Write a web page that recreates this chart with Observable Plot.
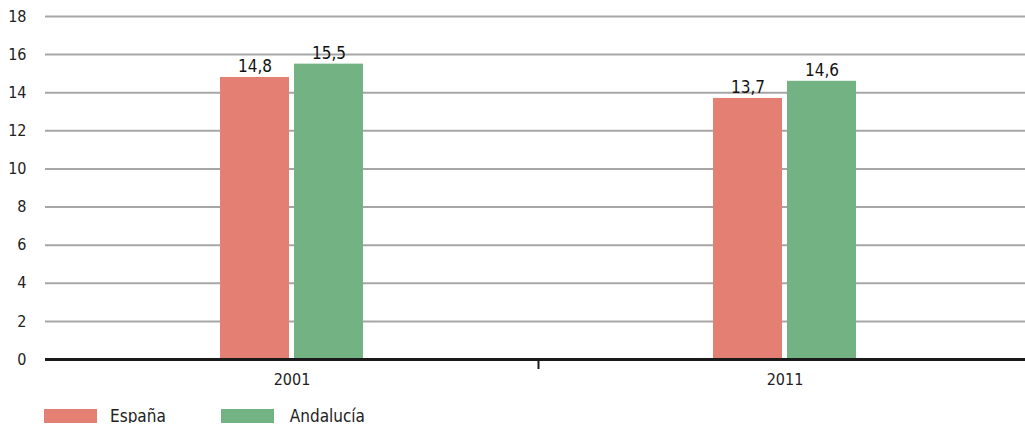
<!DOCTYPE html>
<html>
<head>
<meta charset="utf-8">
<script src="https://cdn.jsdelivr.net/npm/d3@7"></script>
<script src="https://cdn.jsdelivr.net/npm/@observablehq/plot@0.6"></script>
<style>
  body { margin: 0; background: #fff; font-family: "DejaVu Sans Condensed", sans-serif; }
  #legend { display: flex; align-items: center; height: 14px; margin-top: 14px; padding-left: 44px; font-size: 17px; color: #222; }
  .item { display: flex; align-items: center; }
  .sw { width: 53px; height: 14px; margin-right: 13px; }
</style>
</head>
<body>
<div id="chart"></div>
<div id="legend"></div>
<script>
const years = ["2001", "2011"];
const series = ["España", "Andalucía"];
const espana = [14.8, 13.7];
const andalucia = [15.5, 14.6];
const colors = ["#E47F74", "#73B383"];
const yTicks = [0, 2, 4, 6, 8, 10, 12, 14, 16, 18];

const data = [];
years.forEach((y, i) => {
  data.push({year: y, series: series[0], value: espana[i]});
  data.push({year: y, series: series[1], value: andalucia[i]});
});
const fmt = v => v.toFixed(1).replace(".", ",");
const es = data.filter(d => d.series === series[0]);
const an = data.filter(d => d.series === series[1]);

const chart = Plot.plot({
  width: 1025,
  height: 395,
  marginLeft: 45,
  marginRight: 0,
  marginTop: 16,
  marginBottom: 36,
  style: {fontFamily: "'DejaVu Sans Condensed', sans-serif", fontSize: "16px", color: "#222"},
  x: {domain: years, range: [45, 1031], padding: 0, label: null},
  y: {domain: [0, 18], ticks: yTicks, label: null},
  color: {domain: series, range: colors},
  marks: [
    Plot.ruleY(yTicks.filter(t => t > 0), {stroke: "#a6a6a6", strokeWidth: 2}),
    Plot.axisY(yTicks, {tickSize: 0, tickPadding: 19, fontSize: 16, label: null}),
    Plot.axisX({tickSize: 0, tickPadding: 14, fontSize: 16, label: null}),
    Plot.barY(es, {x: "year", y: "value", fill: colors[0], insetLeft: 175, insetRight: 249}),
    Plot.barY(an, {x: "year", y: "value", fill: colors[1], insetLeft: 249, insetRight: 175}),
    Plot.text(es, {x: "year", y: "value", text: d => fmt(d.value), dx: -37, dy: -11, fontSize: 17, fill: "#111"}),
    Plot.text(an, {x: "year", y: "value", text: d => fmt(d.value), dx: 37, dy: -11, fontSize: 17, fill: "#111"}),
    Plot.ruleY([0], {stroke: "#1a1a1a", strokeWidth: 3}),
    Plot.ruleX([years[1]], {x: d => d, y1: 0, y2: 0, dx: -246.5, insetBottom: -10, stroke: "#1a1a1a", strokeWidth: 2})
  ]
});
document.getElementById("chart").appendChild(chart);

const legend = document.getElementById("legend");
series.forEach((s, i) => {
  const it = document.createElement("div");
  it.className = "item";
  if (i > 0) it.style.marginLeft = "55px";
  const sw = document.createElement("div");
  sw.className = "sw";
  sw.style.background = colors[i];
  if (i > 0) sw.style.marginRight = "16px";
  const lb = document.createElement("span");
  lb.textContent = s;
  it.appendChild(sw);
  it.appendChild(lb);
  legend.appendChild(it);
});
</script>
</body>
</html>
